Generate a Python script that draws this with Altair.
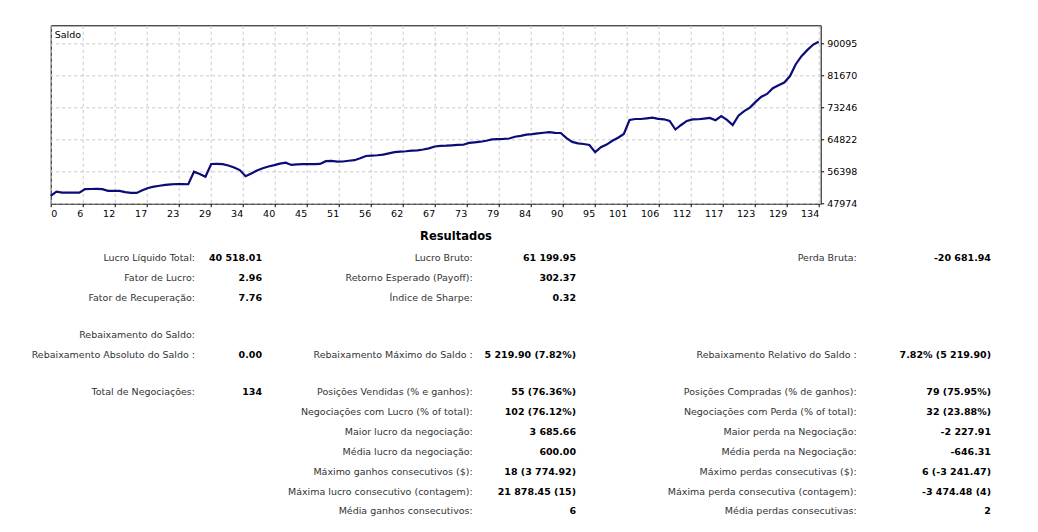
import altair as alt
import pandas as pd

## saldo após cada negociação (0 = depósito inicial)
trade = list(range(135))
balance = [50000, 51120, 50880, 50860, 50860, 50870, 51820, 51830, 51840, 51800,
           51350, 51330, 51320, 51000, 50800, 50790, 51500, 52100, 52450, 52680,
           52900, 53050, 53150, 53100, 53080, 56380, 55750, 55060, 58400, 58420,
           58380, 58000, 57500, 56800, 55200, 55900, 56700, 57300, 57750, 58100,
           58500, 58740, 58150, 58300, 58350, 58380, 58390, 58420, 59150, 59200,
           59000, 59050, 59250, 59400, 59900, 60500, 60600, 60700, 60850, 61200,
           61500, 61650, 61750, 61900, 62000, 62200, 62500, 63000, 63150, 63200,
           63300, 63400, 63450, 63950, 64100, 64250, 64500, 64880, 64950, 65000,
           65100, 65550, 65800, 66100, 66250, 66450, 66600, 66750, 66550, 66540,
           65200, 64200, 63800, 63650, 63400, 61530, 62800, 63500, 64500, 65300,
           66300, 69950, 70210, 70210, 70400, 70560, 70250, 70140, 69690, 67460,
           68640, 69700, 70100, 70150, 70300, 70480, 69900, 71000, 70000, 68640,
           71100, 72300, 73200, 74700, 76050, 76800, 78300, 79100, 79800, 81500,
           84600, 86700, 88300, 89700, 90518]

y_ticks = [47974, 56398, 64822, 73246, 81670, 90095]
x_tick_labels = ['0', '6', '12', '17', '23', '29', '34', '40', '45', '51', '56', '62', '67',
                 '73', '79', '84', '90', '95', '101', '106', '112', '117', '123', '129', '134']

## tabela de resultados (uma entrada por linha do relatório)
title_text = 'Resultados'
left_labels = ['Lucro Líquido Total:', 'Fator de Lucro:', 'Fator de Recuperação:', 'Rebaixamento do Saldo:',
               'Rebaixamento Absoluto do Saldo :', 'Total de Negociações:', '', '', '', '', '', '']
left_values = ['40 518.01', '2.96', '7.76', '', '0.00', '134', '', '', '', '', '', '']
mid_labels = ['Lucro Bruto:', 'Retorno Esperado (Payoff):', 'Índice de Sharpe:', '',
              'Rebaixamento Máximo do Saldo :', 'Posições Vendidas (% e ganhos):',
              'Negociações com Lucro (% of total):', 'Maior lucro da negociação:',
              'Média lucro da negociação:', 'Máximo ganhos consecutivos ($):',
              'Máxima lucro consecutivo (contagem):', 'Média ganhos consecutivos:']
mid_values = ['61 199.95', '302.37', '0.32', '', '5 219.90 (7.82%)', '55 (76.36%)', '102 (76.12%)',
              '3 685.66', '600.00', '18 (3 774.92)', '21 878.45 (15)', '6']
right_labels = ['Perda Bruta:', '', '', '', 'Rebaixamento Relativo do Saldo :',
                'Posições Compradas (% de ganhos):', 'Negociações com Perda (% of total):',
                'Maior perda na Negociação:', 'Média perda na Negociação:',
                'Máximo perdas consecutivas ($):', 'Máxima perda consecutiva (contagem):',
                'Média perdas consecutivas:']
right_values = ['-20 681.94', '', '', '', '7.82% (5 219.90)', '79 (75.95%)', '32 (23.88%)',
                '-2 227.91', '-646.31', '6 (-3 241.47)', '-3 474.48 (4)', '2']

FONT = 'DejaVu Sans'
Y_TOP = 94822
X_END = 134.35

## layout da tabela: colunas e linhas (posições em px a partir do canto do gráfico)
col_slots = [0, 1, 2, 3, 4, 5, 6]   # rótulo esq, valor esq, título, rótulo meio, valor meio, rótulo dir, valor dir
col_px = [144.3, 211.3, 405.3, 422, 525.3, 806, 940.3]
row_slots = list(range(13))
row_px = [211.7, 232.7, 252.7, 272.7, 309.7, 329.7, 366.7, 386.7, 406.7, 426.7, 446.7, 466.7, 486.2]

df = pd.DataFrame({'trade': trade, 'saldo': balance})

items = [{'text': title_text, 'col': 2, 'row': 0, 'kind': 'title'}]
for i in range(len(left_labels)):
    for col, txt, kind in [(0, left_labels[i], 'label'), (1, left_values[i], 'value'),
                           (3, mid_labels[i], 'label'), (4, mid_values[i], 'value'),
                           (5, right_labels[i], 'label'), (6, right_values[i], 'value')]:
        if txt:
            items.append({'text': txt, 'col': col, 'row': i + 1, 'kind': kind})
table = pd.DataFrame(items)

x_scale = alt.Scale(domain=[0, X_END], nice=False, zero=False)
y_scale = alt.Scale(domain=[47974, Y_TOP], nice=False, zero=False)
x_axis = alt.Axis(values=[k * 134 / 24 for k in range(25)],
                  labelExpr='[' + ','.join("'%s'" % t for t in x_tick_labels) + '][round(datum.value * 24 / 134)]',
                  labelAlign={'condition': {'test': 'datum.value == 0', 'value': 'left'}, 'value': 'right'},
                  labelBaseline='top', labelPadding=2, labelOverlap=False, labelFlush=False,
                  title=None)
y_axis = alt.Axis(orient='right', values=y_ticks, format='d', labelPadding=3,
                  labelOverlap=False, labelFlush=False, title=None)

line = alt.Chart(df).mark_line(color='#0c0c78', strokeWidth=2.2).encode(
    alt.X('trade:Q', scale=x_scale, axis=x_axis),
    alt.Y('saldo:Q', scale=y_scale, axis=y_axis)
)

saldo_label = alt.Chart(pd.DataFrame({'t': ['Saldo']})).mark_text(
    align='left', baseline='top', dx=4, dy=5, font=FONT, fontSize=9.5, color='black'
).encode(
    x=alt.XDatum(0, scale=x_scale, axis=x_axis),
    y=alt.YDatum(Y_TOP, scale=y_scale, axis=y_axis),
    text='t:N'
)

xs = alt.X('col:Q', scale=alt.Scale(domain=col_slots, range=col_px, nice=False, zero=False), axis=None)
ys = alt.Y('row:Q', scale=alt.Scale(domain=row_slots, range=row_px, nice=False, zero=False), axis=None)

labels = alt.Chart(table).transform_filter("datum.kind == 'label'").mark_text(
    align='right', baseline='middle', font=FONT, fontSize=9.5, color='#333333'
).encode(xs, ys, text='text:N')

values = alt.Chart(table).transform_filter("datum.kind == 'value'").mark_text(
    align='right', baseline='middle', font=FONT, fontSize=9.5, fontWeight='bold', color='black'
).encode(xs, ys, text='text:N')

title = alt.Chart(table).transform_filter("datum.kind == 'title'").mark_text(
    align='center', baseline='middle', font=FONT, fontSize=11.5, fontWeight='bold', color='black'
).encode(xs, ys, text='text:N')

chart = alt.layer(
    alt.layer(line, saldo_label),
    alt.layer(labels, values, title)
).resolve_scale(x='independent', y='independent').properties(
    width=770, height=178.4,
    autosize=alt.AutoSizeParams(type='none'),
    padding={'left': 42.7, 'top': 17.3, 'right': 208, 'bottom': 316}
).configure_view(
    stroke='black', strokeWidth=1
).configure_axis(
    labelFont=FONT, labelFontSize=9.5, labelColor='black',
    tickColor='black', tickSize=3, domain=False, labelOverlap=False,
    gridColor='#c8c8c8', gridDash=[3, 3], gridWidth=1
)

chart.save('out.html', embed_options={'renderer': 'svg', 'actions': False})
